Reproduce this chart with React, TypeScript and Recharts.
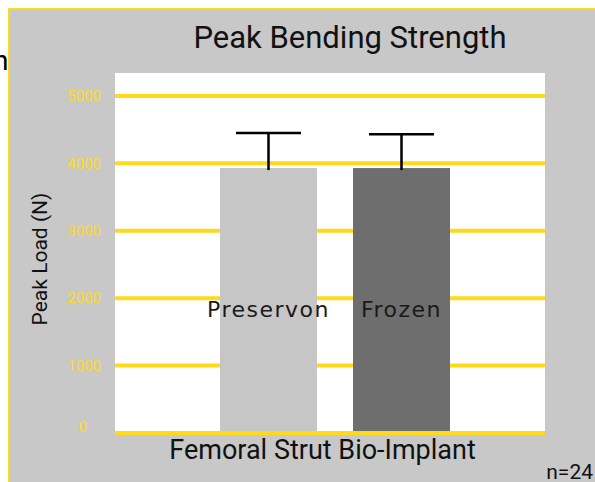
import { BarChart, Bar, XAxis, YAxis, CartesianGrid, ReferenceLine } from "recharts";

const categories = ["Femoral Strut Bio-Implant"];
const preservonLoad = [3930];
const frozenLoad = [3930];
const preservonErr = [520];
const frozenErr = [500];
const yTicks = [0, 1000, 2000, 3000, 4000, 5000];

const YELLOW = "#FFDA1C";
const PANEL = "#C8C8C8";

const data = categories.map((name, i) => ({
  name,
  preservon: preservonLoad[i],
  frozen: frozenLoad[i],
  preservonErr: preservonErr[i],
  frozenErr: frozenErr[i],
}));

// bar + upper error whisker + name drawn inside the bar
function BarWithError(props: any) {
  const { x, y, width, height, fill, payload, valueKey, errKey, label } = props;
  const cx = x + width / 2;
  const errPx = (payload[errKey] * height) / payload[valueKey];
  const half = width * 0.335;
  return (
    <g>
      <rect x={x} y={y} width={width} height={height} fill={fill} />
      <line x1={cx} x2={cx} y1={y - errPx} y2={y + 2} stroke="#000" strokeWidth={2.5} />
      <line x1={cx - half} x2={cx + half} y1={y - errPx} y2={y - errPx} stroke="#000" strokeWidth={2.5} />
      <text
        x={cx}
        y={y + height / 2 + 16}
        textAnchor="middle"
        fontFamily="DejaVu Sans"
        fontSize={22}
        letterSpacing={1.5}
        fill="#1a1a1a"
      >
        {label}
      </text>
    </g>
  );
}

const YTick = (props: any) => {
  const { x, y, payload } = props;
  const isZero = payload.value === 0;
  return (
    <text
      x={x + (isZero ? -14 : 0)}
      y={y + (isZero ? -6 : 0)}
      dy="0.355em"
      textAnchor="end"
      fill={YELLOW}
      fontFamily="Roboto"
      fontSize={15}
    >
      {payload.value}
    </text>
  );
};

export default function App() {
  return (
    <div style={{ position: "fixed", left: 0, top: 0, width: 595, height: 482, overflow: "hidden", background: "#fff" }}>
      <style>{"html,body{margin:0;padding:0;overflow:hidden}"}</style>
      <svg width={20} height={80} style={{ position: "absolute", left: 0, top: 0 }}>
        <text x={-7} y={70} fontFamily="Roboto" fontSize={28} fill="#000">
          n
        </text>
      </svg>
      <div
        style={{
          position: "absolute",
          left: 8,
          top: 8,
          width: 600,
          height: 490,
          background: PANEL,
        }}
      >
        <div style={{ position: "absolute", left: 0, top: 0, width: 600, height: 2, background: YELLOW }} />
        <div style={{ position: "absolute", left: 0, top: 0, width: 2, height: 490, background: YELLOW }} />
        <BarChart
          width={587}
          height={474}
          data={data}
          margin={{ top: 65, right: 50, bottom: 49, left: 0 }}
          barSize={97}
          barGap={36}
          style={{ position: "absolute", left: 0, top: 0 }}
        >
          <CartesianGrid
            vertical={false}
            horizontalValues={yTicks}
            fill="#fff"
            stroke={YELLOW}
            strokeWidth={4}
          />
          <XAxis dataKey="name" hide padding={{ left: 10, right: 0 }} />
          <YAxis
            width={107}
            domain={[0, 5340]}
            ticks={yTicks}
            axisLine={false}
            tickLine={false}
            tickSize={6}
            tickMargin={8}
            tick={<YTick />}
          />
          <Bar
            dataKey="preservon"
            fill="#C6C6C6"
            isAnimationActive={false}
            shape={(p: any) => <BarWithError {...p} valueKey="preservon" errKey="preservonErr" label="Preservon" />}
          />
          <Bar
            dataKey="frozen"
            fill="#6E6E6E"
            isAnimationActive={false}
            shape={(p: any) => <BarWithError {...p} valueKey="frozen" errKey="frozenErr" label="Frozen" />}
          />
          <ReferenceLine y={0} stroke={YELLOW} strokeWidth={4} />
        </BarChart>
        <svg
          width={587}
          height={474}
          style={{ position: "absolute", left: 0, top: 0, pointerEvents: "none" }}
        >
          <text x={342} y={39.5} textAnchor="middle" fontFamily="Roboto" fontSize={31} fill="#111">
            Peak Bending Strength
          </text>
          <text x={314.5} y={451} textAnchor="middle" fontFamily="Roboto" fontSize={27} fill="#111">
            Femoral Strut Bio-Implant
          </text>
          <text x={585} y={471} textAnchor="end" fontFamily="Roboto" fontSize={21} fill="#111">
            n=24
          </text>
          <text
            x={39}
            y={251}
            transform="rotate(-90 39 251)"
            textAnchor="middle"
            fontFamily="Roboto"
            fontSize={21}
            fill="#111"
          >
            Peak Load (N)
          </text>
        </svg>
      </div>
    </div>
  );
}
